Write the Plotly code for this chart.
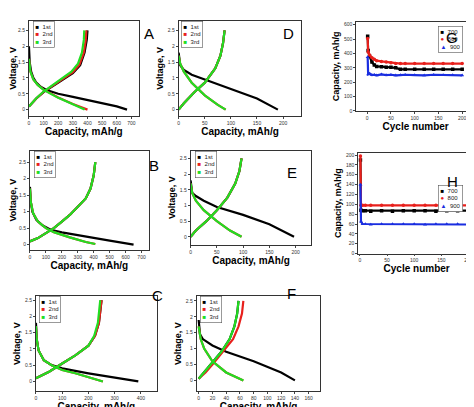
import plotly.graph_objects as go

W, H = 474, 407

# ---- voltage profiles (capacity mAh/g, voltage V) ----
a1_dis_x = [0, 5, 15, 30, 50, 80, 120, 200, 300, 400, 500, 600, 670]
a1_dis_y = [2.0, 1.5, 1.2, 1.0, 0.85, 0.72, 0.62, 0.5, 0.4, 0.3, 0.2, 0.1, 0.0]
a1_ch_x = [0, 50, 100, 200, 300, 350, 380, 395, 400]
a1_ch_y = [0.1, 0.35, 0.55, 0.85, 1.15, 1.4, 1.8, 2.2, 2.5]
a2_dis_x = [0, 10, 30, 60, 100, 150, 200, 300, 400]
a2_dis_y = [1.6, 1.2, 0.95, 0.78, 0.63, 0.5, 0.38, 0.18, 0.0]
a2_ch_x = [0, 50, 100, 200, 300, 345, 375, 388, 392]
a2_ch_y = [0.1, 0.35, 0.56, 0.87, 1.18, 1.42, 1.8, 2.2, 2.5]
a3_dis_x = [0, 10, 30, 60, 100, 150, 200, 300, 380]
a3_dis_y = [1.6, 1.2, 0.95, 0.78, 0.62, 0.49, 0.37, 0.17, 0.0]
a3_ch_x = [0, 50, 100, 200, 290, 335, 362, 375, 378]
a3_ch_y = [0.1, 0.36, 0.57, 0.9, 1.2, 1.45, 1.8, 2.2, 2.5]

b1_dis_x = [0, 5, 15, 40, 80, 130, 200, 300, 400, 500, 650]
b1_dis_y = [1.75, 1.3, 1.0, 0.75, 0.58, 0.45, 0.37, 0.28, 0.2, 0.12, 0.0]
b_ch_x = [0, 50, 100, 150, 200, 250, 300, 350, 380, 400, 410]
b_ch_y = [0.1, 0.2, 0.35, 0.5, 0.7, 0.9, 1.15, 1.4, 1.7, 2.1, 2.5]
b2_dis_x = [0, 5, 20, 50, 100, 150, 250, 350, 410]
b2_dis_y = [1.7, 1.3, 0.95, 0.7, 0.5, 0.38, 0.22, 0.08, 0.02]

c1_dis_x = [0, 3, 10, 30, 60, 100, 200, 300, 390]
c1_dis_y = [1.8, 1.3, 0.95, 0.65, 0.5, 0.4, 0.25, 0.12, 0.0]
c_ch_x = [0, 50, 100, 150, 200, 225, 240, 250]
c_ch_y = [0.1, 0.3, 0.55, 0.8, 1.1, 1.4, 1.8, 2.5]
c3_ch_x = [0, 50, 100, 150, 200, 222, 236, 245]
c2_dis_x = [0, 3, 10, 30, 60, 100, 150, 200, 255]
c2_dis_y = [1.7, 1.3, 0.95, 0.65, 0.5, 0.35, 0.25, 0.12, 0.0]

d1_dis_x = [0, 3, 10, 25, 50, 100, 150, 190]
d1_dis_y = [1.8, 1.4, 1.25, 1.1, 0.95, 0.65, 0.35, 0.0]
d_ch_x = [0, 10, 30, 50, 70, 80, 85, 88]
d_ch_y = [0.0, 0.2, 0.55, 0.85, 1.3, 1.7, 2.1, 2.5]
d2_dis_x = [0, 3, 10, 25, 50, 75, 90]
d2_dis_y = [1.7, 1.45, 1.2, 0.85, 0.45, 0.15, 0.0]

e1_dis_x = [0, 3, 10, 25, 50, 100, 150, 197]
e1_dis_y = [1.8, 1.4, 1.3, 1.15, 0.95, 0.7, 0.4, 0.0]
e_ch_x = [0, 10, 30, 50, 70, 85, 93, 97]
e_ch_y = [0.0, 0.2, 0.5, 0.85, 1.25, 1.7, 2.1, 2.5]
e2_dis_x = [0, 3, 10, 25, 50, 75, 97]
e2_dis_y = [1.7, 1.4, 1.15, 0.85, 0.5, 0.2, 0.0]

f1_dis_x = [0, 2, 6, 20, 40, 80, 120, 140]
f1_dis_y = [1.9, 1.45, 1.3, 1.1, 0.9, 0.6, 0.25, 0.0]
f2_ch_x = [0, 10, 20, 35, 50, 58, 63, 65]
f2_ch_y = [0.05, 0.25, 0.5, 0.9, 1.3, 1.7, 2.1, 2.5]
f3_ch_x = [0, 10, 20, 33, 45, 52, 56, 58]
f3_ch_y = [0.05, 0.3, 0.55, 0.9, 1.3, 1.7, 2.1, 2.5]
f2_dis_x = [0, 3, 8, 20, 40, 65]
f2_dis_y = [1.7, 1.3, 1.0, 0.6, 0.25, 0.0]

# ---- cycling (cycle number, capacity mAh/g) ----
g_cyc = [1, 2, 5, 10, 15, 20, 30, 40, 50, 60, 70, 80, 100, 120, 140, 160, 180, 200]
g_700 = [520, 420, 380, 340, 320, 310, 308, 305, 305, 300, 290, 290, 290, 290, 290, 290, 290, 290]
g_800 = [505, 410, 390, 370, 360, 350, 345, 340, 335, 330, 330, 330, 330, 330, 330, 330, 330, 330]
g_900 = [375, 255, 260, 250, 252, 248, 255, 250, 252, 248, 250, 252, 250, 248, 252, 250, 250, 248]

h_cyc = [1, 2, 5, 10, 20, 40, 60, 80, 100, 120, 140, 160, 180, 200, 205]
h_700 = [190, 88, 87, 87, 86, 87, 86, 87, 87, 87, 86, 87, 87, 87, 87]
h_800 = [198, 98, 98, 98, 98, 98, 98, 98, 98, 98, 98, 98, 98, 98, 98]
h_900 = [140, 65, 60, 60, 59, 60, 60, 60, 60, 59, 60, 60, 60, 60, 59]

BLK, RED, GRN, BLU = "#000000", "#e8201c", "#22dd22", "#1a2ee0"

# panel: (left, right, top, bottom) px, xrange, yrange, xdtick, letter pos, legend pos
panels = {
    "A": ((20, 130, 12, 108), [0, 750], [-0.2, 2.8], 100, (133, 14), (24, 12)),
    "D": ((170, 293, 12, 108), [0, 235], [-0.2, 2.8], 50, (280, 14), (172, 12)),
    "G": ((348, 467, 13, 103), [-23, 227], [0, 620], 50, (452, 18), (430, 17)),
    "B": ((21, 140, 143, 243), [0, 745], [-0.15, 2.85], 100, (138, 158), (25, 143)),
    "E": ((182, 303, 143, 238), [0, 230], [-0.25, 2.75], 50, (284, 165), (186, 143)),
    "H": ((350, 467, 145, 247), [-3, 212], [0, 205], 50, (452, 174), (430, 178)),
    "C": ((27, 148, 290, 386), [0, 460], [-0.3, 2.62], 100, (141, 300), (30, 290)),
    "F": ((188, 312, 290, 386), [-3, 177], [-0.34, 2.65], 20, (283, 298), (191, 290)),
}

fig = go.Figure()
order = ["A", "D", "G", "B", "E", "H", "C", "F"]
ax = {k: i + 1 for i, k in enumerate(order)}


def add(panel, x, y, color, mode="lines", symbol="square"):
    i = ax[panel]
    fig.add_trace(go.Scatter(
        x=x, y=y, mode=mode, showlegend=False, hoverinfo="skip",
        line=dict(color=color, width=2.2),
        marker=dict(color=color, size=3.5, symbol=symbol),
        xaxis="x" if i == 1 else f"x{i}", yaxis="y" if i == 1 else f"y{i}"))


def voltage(p, d1, c1, d2, c2, d3, c3):
    add(p, *d1, BLK)
    add(p, *c1, BLK)
    add(p, *d2, RED)
    add(p, *c2, RED)
    add(p, *d3, GRN)
    add(p, *c3, GRN)


voltage("A", (a1_dis_x, a1_dis_y), (a1_ch_x, a1_ch_y), (a2_dis_x, a2_dis_y),
        (a2_ch_x, a2_ch_y), (a3_dis_x, a3_dis_y), (a3_ch_x, a3_ch_y))
voltage("B", (b1_dis_x, b1_dis_y), (b_ch_x, b_ch_y), (b2_dis_x, b2_dis_y),
        (b_ch_x, b_ch_y), (b2_dis_x, b2_dis_y), (b_ch_x, b_ch_y))
voltage("C", (c1_dis_x, c1_dis_y), (c_ch_x, c_ch_y), (c2_dis_x, c2_dis_y),
        (c_ch_x, c_ch_y), (c2_dis_x, c2_dis_y), (c3_ch_x, c_ch_y))
voltage("D", (d1_dis_x, d1_dis_y), (d_ch_x, d_ch_y), (d2_dis_x, d2_dis_y),
        (d_ch_x, d_ch_y), (d2_dis_x, d2_dis_y), (d_ch_x, d_ch_y))
voltage("E", (e1_dis_x, e1_dis_y), (e_ch_x, e_ch_y), (e2_dis_x, e2_dis_y),
        (e_ch_x, e_ch_y), (e2_dis_x, e2_dis_y), (e_ch_x, e_ch_y))
voltage("F", (f1_dis_x, f1_dis_y), (f3_ch_x, f3_ch_y), (f2_dis_x, f2_dis_y),
        (f2_ch_x, f2_ch_y), (f2_dis_x, f2_dis_y), (f3_ch_x, f3_ch_y))

for p, cyc, s7, s8, s9 in [("G", g_cyc, g_700, g_800, g_900), ("H", h_cyc, h_700, h_800, h_900)]:
    add(p, cyc, s7, BLK, "lines+markers", "square")
    add(p, cyc, s8, RED, "lines+markers", "circle")
    add(p, cyc, s9, BLU, "lines+markers", "triangle-up")

layout = dict(width=W, height=H, margin=dict(l=0, r=0, t=0, b=0),
              paper_bgcolor="white", plot_bgcolor="white", showlegend=False,
              font=dict(family="Liberation Sans, Arial", color="black"))
ann = []
for p in order:
    i = ax[p]
    (l, r, t, b), xr, yr, xdt, (lx, ly), (gx, gy) = panels[p]
    cyc = p in ("G", "H")
    common = dict(showline=True, mirror=True, linecolor="#333", linewidth=0.8,
                  ticks="outside", ticklen=2, tickfont=dict(size=5, color="#333"),
                  showgrid=False, zeroline=False)
    xs = "" if i == 1 else str(i)
    layout[f"xaxis{xs}"] = dict(domain=[l / W, r / W], range=xr, dtick=xdt,
                                anchor=f"y{xs}", **common,
                                title=dict(text="<b>Cycle number</b>" if cyc else "<b>Capacity, mAh/g</b>",
                                           font=dict(size=10), standoff=1))
    layout[f"yaxis{xs}"] = dict(domain=[1 - b / H, 1 - t / H], range=yr,
                                dtick=(100 if p == "G" else 20) if cyc else 0.5,
                                anchor=f"x{xs}", **common,
                                title=dict(text="<b>Capacity, mAh/g</b>" if cyc else "<b>Voltage, V</b>",
                                           font=dict(size=9), standoff=2))
    if cyc:
        items = [(BLK, "■", "700"), (RED, "●", "800"), (BLU, "▲", "900")]
    else:
        items = [(BLK, "■", "1st"), (RED, "■", "2nd"), (GRN, "■", "3rd")]
    legend_text = "<br>".join(
        f"<span style='color:{c}'>{s}</span>  {name}" for c, s, name in items)
    ann.append(dict(text=legend_text, x=gx / W, y=1 - gy / H, xref="paper", yref="paper",
                    xanchor="left", yanchor="top", align="left", showarrow=False,
                    font=dict(size=6, color="#222"), bgcolor="white",
                    bordercolor="#555", borderwidth=0.6, borderpad=2))
    ann.append(dict(text=p, x=lx / W, y=1 - ly / H, xref="paper", yref="paper",
                    showarrow=False, font=dict(size=15, color="black")))
layout["annotations"] = ann
fig.update_layout(**layout)

fig.write_html("out.html")
